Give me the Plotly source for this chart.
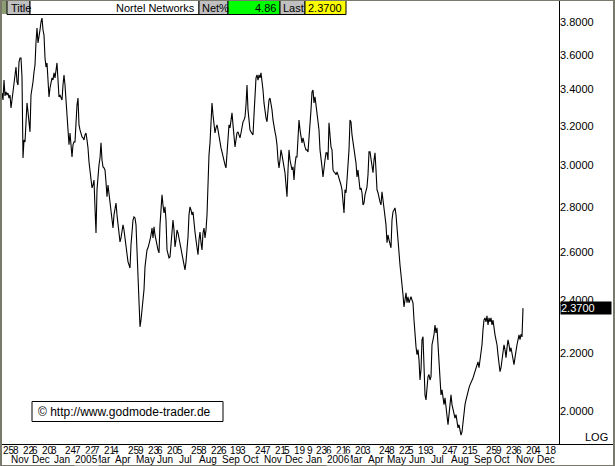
import numpy as np
import pandas as pd
import plotly.graph_objects as go

# ---------------- data ----------------
title_text = "Nortel Networks"
net_pct = 4.86
last_price = 2.37

first_session = "2004-10-22"
last_session = "2007-01-12"
holidays = ["2004-11-25", "2004-12-24", "2005-01-17", "2005-02-21", "2005-03-25",
            "2005-05-30", "2005-07-04", "2005-09-05", "2005-11-24", "2005-12-26",
            "2006-01-02", "2006-01-16", "2006-02-20", "2006-04-14", "2006-05-29",
            "2006-07-04", "2006-09-04", "2006-11-23", "2006-12-25", "2007-01-01",
            "2007-01-02"]

# daily closes, one per trading session starting at first_session
close = [
    3.380, 3.341, 3.453, 3.364, 3.386, 3.369, 3.380, 3.352, 3.369, 3.298,
    3.341, 3.386, 3.414, 3.482, 3.528, 3.442, 3.425, 3.557, 3.581, 3.581,
    3.470, 3.036, 3.128, 3.118, 3.233, 3.325, 3.276, 3.207, 3.170, 3.369,
    3.397, 3.442, 3.499, 3.540, 3.677, 3.763, 3.671, 3.701, 3.750, 3.800,
    3.825, 3.750, 3.719, 3.581, 3.528, 3.552, 3.442, 3.358, 3.408, 3.436,
    3.465, 3.453, 3.494, 3.465, 3.522, 3.552, 3.453, 3.358, 3.369, 3.352,
    3.341, 3.425, 3.482, 3.425, 3.341, 3.298, 3.180, 3.103, 3.164, 3.087,
    3.042, 3.103, 3.118, 3.118, 3.233, 3.314, 3.352, 3.207, 3.180, 3.154,
    3.144, 3.139, 3.128, 3.154, 3.164, 3.128, 3.087, 3.016, 2.967, 2.938,
    2.890, 2.904, 2.928, 2.796, 2.683, 2.881, 2.953, 3.002, 3.036, 3.113,
    3.026, 2.992, 2.987, 2.977, 2.918, 2.848, 2.904, 2.857, 2.824, 2.787,
    2.741, 2.705, 2.764, 2.787, 2.819, 2.764, 2.710, 2.674, 2.644, 2.661,
    2.687, 2.719, 2.696, 2.661, 2.609, 2.575, 2.558, 2.545, 2.532, 2.631,
    2.687, 2.741, 2.755, 2.750, 2.719, 2.622, 2.504, 2.402, 2.298, 2.324,
    2.363, 2.391, 2.443, 2.537, 2.575, 2.609, 2.618, 2.644, 2.652, 2.674,
    2.705, 2.661, 2.710, 2.674, 2.644, 2.631, 2.609, 2.596, 2.719, 2.787,
    2.857, 2.810, 2.773, 2.801, 2.741, 2.609, 2.588, 2.575, 2.579, 2.631,
    2.705, 2.741, 2.696, 2.622, 2.652, 2.696, 2.683, 2.661, 2.640, 2.609,
    2.588, 2.579, 2.558, 2.524, 2.558, 2.609, 2.665, 2.764, 2.801, 2.787,
    2.764, 2.778, 2.719, 2.687, 2.652, 2.609, 2.588, 2.652, 2.687, 2.640,
    2.609, 2.683, 2.705, 2.661, 2.696, 2.764, 2.977, 3.052, 3.113, 3.233,
    3.325, 3.260, 3.191, 3.164, 3.191, 3.207, 3.180, 3.139, 3.113, 3.087,
    3.067, 3.042, 3.016, 3.002, 2.987, 3.077, 3.154, 3.207, 3.191, 3.244,
    3.271, 3.207, 3.139, 3.092, 3.128, 3.164, 3.170, 3.154, 3.139, 3.164,
    3.196, 3.223, 3.233, 3.249, 3.314, 3.425, 3.287, 3.207, 3.180, 3.170,
    3.164, 3.154, 3.260, 3.369, 3.465, 3.482, 3.453, 3.482, 3.465, 3.494,
    3.453, 3.397, 3.325, 3.260, 3.244, 3.223, 3.303, 3.341, 3.352, 3.325,
    3.287, 3.233, 3.191, 3.170, 3.144, 3.103, 3.026, 2.987, 3.026, 3.077,
    3.052, 3.026, 3.002, 2.963, 2.904, 2.848, 2.977, 3.077, 3.026, 2.992,
    2.977, 2.992, 2.928, 3.002, 3.042, 3.042, 3.128, 3.233, 3.180, 3.144,
    3.113, 3.139, 3.103, 3.092, 3.077, 3.077, 3.067, 3.128, 3.207, 3.287,
    3.386, 3.397, 3.325, 3.358, 3.314, 3.271, 3.233, 3.180, 3.077, 3.042,
    2.992, 2.943, 3.002, 3.026, 3.062, 3.062, 3.026, 3.218, 3.154, 3.092,
    3.077, 2.977, 2.967, 2.963, 2.953, 2.967, 2.953, 2.938, 2.928, 2.904,
    2.881, 2.801, 2.773, 2.881, 2.867, 2.928, 3.002, 3.077, 3.233, 3.223,
    3.154, 3.113, 3.077, 3.052, 3.011, 2.943, 2.977, 2.928, 2.881, 2.890,
    2.867, 2.810, 2.819, 2.857, 2.881, 2.895, 2.953, 3.067, 3.067, 3.026,
    3.002, 2.963, 3.026, 3.062, 2.977, 2.881, 2.867, 2.833, 2.824, 2.810,
    2.871, 2.833, 2.801, 2.773, 2.719, 2.640, 2.674, 2.652, 2.631, 2.618,
    2.741, 2.778, 2.787, 2.796, 2.764, 2.696, 2.652, 2.609, 2.545, 2.504,
    2.471, 2.423, 2.375, 2.415, 2.431, 2.391, 2.415, 2.391, 2.402, 2.415,
    2.402, 2.391, 2.324, 2.249, 2.224, 2.195, 2.213, 2.176, 2.105, 2.141,
    2.249, 2.261, 2.141, 2.054, 2.037, 2.071, 2.117, 2.124, 2.105, 2.117,
    2.231, 2.249, 2.268, 2.305, 2.275, 2.294, 2.231, 2.166, 2.098, 2.054,
    2.071, 2.037, 2.021, 2.044, 2.004, 1.970, 1.955, 1.988, 2.037, 2.054,
    2.021, 2.004, 1.998, 1.977, 1.988, 1.964, 1.945, 1.955, 1.939, 1.922,
    1.932, 1.970, 2.004, 2.021, 2.037, 2.054, 2.061, 2.078, 2.088, 2.095,
    2.105, 2.112, 2.124, 2.134, 2.141, 2.159, 2.169, 2.148, 2.176, 2.195,
    2.231, 2.287, 2.324, 2.332, 2.317, 2.340, 2.305, 2.332, 2.317, 2.332,
    2.305, 2.324, 2.287, 2.268, 2.249, 2.231, 2.195, 2.159, 2.134, 2.148,
    2.176, 2.206, 2.231, 2.213, 2.184, 2.220, 2.249, 2.231, 2.206, 2.220,
    2.195, 2.169, 2.159, 2.184, 2.213, 2.231, 2.249, 2.268, 2.250, 2.270,
    2.260, 2.370,
]

day_ticks = [
    "2004-10-25", "2004-11-08", "2004-11-22", "2004-12-06", "2004-12-20", "2005-01-03",
    "2005-01-24", "2005-02-07", "2005-02-22", "2005-03-07", "2005-03-21", "2005-04-04",
    "2005-04-25", "2005-05-09", "2005-05-23", "2005-06-06", "2005-06-20", "2005-07-05",
    "2005-07-25", "2005-08-08", "2005-08-22", "2005-09-06", "2005-09-19", "2005-10-03",
    "2005-10-24", "2005-11-07", "2005-11-21", "2005-12-05", "2005-12-19",
    "2006-01-09", "2006-01-23", "2006-02-06", "2006-02-21", "2006-03-06", "2006-03-20", "2006-04-03",
    "2006-04-24", "2006-05-08", "2006-05-22", "2006-06-05", "2006-06-19", "2006-07-03",
    "2006-07-24", "2006-08-07", "2006-08-21", "2006-09-05",
    "2006-09-25", "2006-10-09", "2006-10-23", "2006-11-06", "2006-11-20", "2006-12-04", "2006-12-18",
]

month_starts = ["2004-11", "2004-12", "2005-01", "2005-03", "2005-04", "2005-05", "2005-06",
                "2005-07", "2005-08", "2005-09", "2005-10", "2005-11", "2005-12", "2006-01",
                "2006-03", "2006-04", "2006-05", "2006-06", "2006-07", "2006-08", "2006-09",
                "2006-10", "2006-11", "2006-12"]
month_labels = ["Nov", "Dec", "Jan", "Mar", "Apr", "May", "Jun", "Jul", "Aug", "Sep", "Oct",
                "Nov", "Dec", "Jan", "Mar", "Apr", "May", "Jun", "Jul", "Aug", "Sep", "Oct",
                "Nov", "Dec"]
year_starts = ["2005-02", "2006-02"]
year_labels = ["2005", "2006"]

price_ticks = [2.0, 2.2, 2.4, 2.6, 2.8, 3.0, 3.2, 3.4, 3.6, 3.8]

# ---------------- layout helpers ----------------
W, H = 615, 466
ML, MR, MT, MB = 2, 56, 17, 22
PW, PH = W - ML - MR, H - MT - MB
FONT = "Arial, 'Liberation Sans', sans-serif"
FRAME = "#7a7a6c"
GREY = "#c0c0c0"


def px(x):
    return (x - ML) / PW


def py(y):
    return (H - MB - y) / PH


sessions = pd.bdate_range(first_session, last_session, freq="C", holidays=holidays)
x_idx = np.arange(len(close))
tick_idx = sessions.get_indexer(pd.to_datetime(day_ticks))
month_idx = [int(np.searchsorted(sessions, pd.Timestamp(m + "-01"))) for m in month_starts]
year_idx = [int(np.searchsorted(sessions, pd.Timestamp(m + "-01"))) for m in year_starts]

fig = go.Figure()
fig.add_trace(go.Scatter(x=x_idx, y=close, mode="lines",
                         line=dict(color="black", width=1.1), hoverinfo="skip"))

shapes = []


def rect(x0, y0, x1, y1, fill, line=None, lw=1):
    shapes.append(dict(type="rect", xref="paper", yref="paper",
                       x0=px(x0), x1=px(x1), y0=py(y1), y1=py(y0),
                       fillcolor=fill, line=dict(color=line or fill, width=lw if line else 0),
                       layer="above"))


def hline(x0, x1, y, color="black", w=1):
    shapes.append(dict(type="line", xref="paper", yref="paper", x0=px(x0), x1=px(x1),
                       y0=py(y), y1=py(y), line=dict(color=color, width=w), layer="above"))


def vline(x, y0, y1, color="black", w=1):
    shapes.append(dict(type="line", xref="paper", yref="paper", x0=px(x), x1=px(x),
                       y0=py(y0), y1=py(y1), line=dict(color=color, width=w), layer="above"))


# axes lines
vline(559.5, 0, 445)
hline(0, 615, 444.5)

# header boxes
rect(0, 0, 7, 14, "#8d9d74")
rect(7, 0, 30, 14.5, GREY, "black")
rect(30, 0, 199, 14.5, "white", "black")
rect(199, 0, 228, 14.5, GREY, "black")
rect(228, 0, 280, 14.5, "#00ff00", "black")
rect(280, 0, 305, 14.5, GREY, "black")
rect(305, 0, 346, 14.5, "#ffff00", "black")

# watermark box
rect(32, 401.5, 223, 421.5, "white", "black")

# window frame
rect(0, 0, 2, 466, FRAME)
rect(613, 0, 615, 466, FRAME)
rect(0, 0, 615, 1, FRAME)
rect(0, 465, 615, 466, FRAME)

ann = []


def text(x, y, s, xanchor="left", size=11, color="black", **kw):
    d = dict(xref="paper", yref="paper", x=px(x), y=py(y), text=s, showarrow=False,
             xanchor=xanchor, yanchor="middle", font=dict(family=FONT, size=size, color=color))
    d.update(kw)
    ann.append(d)


text(9, 7.5, "Title")
text(197, 7.5, title_text, xanchor="right")
text(200, 7.5, "Net%")
text(278, 7.5, f"{net_pct:.2f}", xanchor="right")
text(281, 7.5, "Last")
text(344, 7.5, f"{last_price:.4f}", xanchor="right")
text(36, 411.5, "\u00a9 http://www.godmode-trader.de", size=12)
text(610, 437, "LOG", xanchor="right")

# last price marker on the axis
ann.append(dict(xref="paper", yref="y", x=px(560), y=np.log10(last_price), text=f"{last_price:.4f}",
                showarrow=False, xanchor="left", yanchor="middle", align="left", width=50,
                bgcolor="black", borderpad=0,
                font=dict(family=FONT, size=11, color="white")))

# bottom date rows
for i, d in zip(tick_idx, day_ticks):
    ann.append(dict(xref="x", yref="paper", x=int(i), y=py(450.5), text=str(int(d[-2:])),
                    showarrow=False, xanchor="left", yanchor="middle", xshift=-1,
                    borderpad=0, font=dict(family=FONT, size=10, color="black")))
for i, m in zip(month_idx, month_labels):
    ann.append(dict(xref="x", yref="paper", x=i, y=py(459.5), text=m,
                    showarrow=False, xanchor="left", yanchor="middle", xshift=2,
                    borderpad=0, font=dict(family=FONT, size=10, color="black")))
for i, m in zip(year_idx, year_labels):
    ann.append(dict(xref="x", yref="paper", x=i, y=py(459.5), text=m,
                    showarrow=False, xanchor="left", yanchor="middle", xshift=3,
                    bgcolor="white", borderpad=0,
                    font=dict(family=FONT, size=10, color="black")))

fig.update_layout(
    width=W, height=H, margin=dict(l=ML, r=MR, t=MT, b=MB, pad=0),
    paper_bgcolor="white", plot_bgcolor="white", showlegend=False,
    font=dict(family=FONT, size=11, color="black"),
    xaxis=dict(range=[0, PW], showgrid=False, zeroline=False, showticklabels=False,
               ticks="", showline=False, fixedrange=True),
    yaxis=dict(type="log", side="right", range=[np.log10(1.894), np.log10(3.8315)],
               tickvals=price_ticks, ticktext=[f"{v:.4f}" for v in price_ticks],
               showgrid=False, zeroline=False, ticks="", showline=False, fixedrange=True,
               tickfont=dict(family=FONT, size=11, color="black")),
    shapes=shapes, annotations=ann,
)

fig.write_html("out.html", config={"displayModeBar": False},
               post_script="document.body.style.margin='0px';document.body.style.overflow='hidden';")
